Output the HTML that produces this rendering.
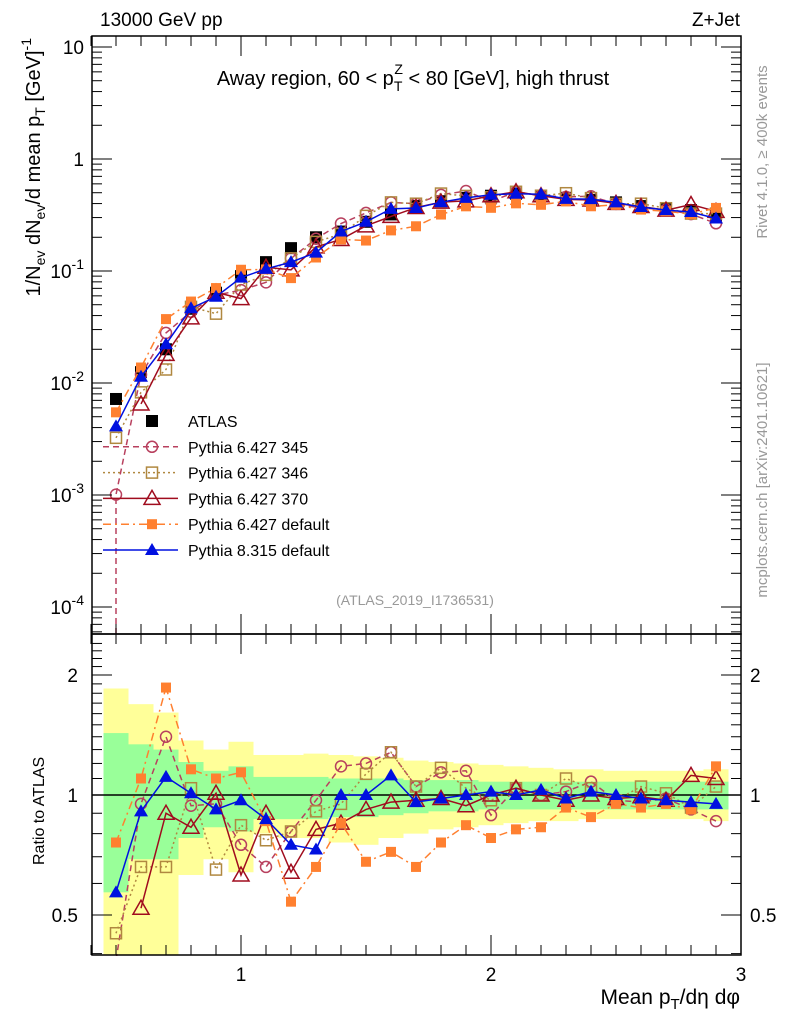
<!DOCTYPE html>
<html><head><meta charset="utf-8"><style>
html,body{margin:0;padding:0;background:#fff;}
svg{display:block;font-family:"Liberation Sans",sans-serif;}
</style></head><body>
<svg id="chart" width="786" height="1024" viewBox="0 0 786 1024" xmlns="http://www.w3.org/2000/svg">
<rect x="0" y="0" width="786" height="1024" fill="#fff"/>
<g id="bands"></g><g id="grid"></g><g id="marks"></g><g id="axes"></g>
<text x="100" y="26" font-size="19">13000 GeV pp</text>
<text x="740" y="26" font-size="19" text-anchor="end">Z+Jet</text>
<text x="413" y="85" font-size="20" text-anchor="middle">Away region, 60 &lt; p<tspan font-size="14" dy="6">T</tspan><tspan font-size="14" dx="-8" dy="-17">Z</tspan><tspan dy="11"> &lt; 80 [GeV], high thrust</tspan></text>
<text x="415" y="605" font-size="14" fill="#999" text-anchor="middle">(ATLAS_2019_I1736531)</text>
<text transform="translate(767,152) rotate(-90)" font-size="15" fill="#999" text-anchor="middle">Rivet 4.1.0, ≥ 400k events</text>
<text transform="translate(767,480) rotate(-90)" font-size="15" fill="#999" text-anchor="middle">mcplots.cern.ch [arXiv:2401.10621]</text>
<text transform="translate(40,38) rotate(-90)" font-size="20" text-anchor="end">1/N<tspan font-size="14" dy="5">ev</tspan><tspan dy="-5"> dN</tspan><tspan font-size="14" dy="5">ev</tspan><tspan dy="-5">/d mean p</tspan><tspan font-size="14" dy="5">T</tspan><tspan dy="-5"> [GeV]</tspan><tspan font-size="14" dy="-9">-1</tspan></text>
<text transform="translate(44,865) rotate(-90)" font-size="16">Ratio to ATLAS</text>
<text x="740" y="1004" font-size="21" text-anchor="end">Mean p<tspan font-size="15" dy="5">T</tspan><tspan dy="-5">/dη dφ</tspan></text>
<g id="legend"></g>
</svg>
<script>
const xs=[0.5,0.6,0.7,0.8,0.9,1.0,1.1,1.2,1.3,1.4,1.5,1.6,1.7,1.8,1.9,2.0,2.1,2.2,2.3,2.4,2.5,2.6,2.7,2.8,2.9];
const atlas=[0.0072,0.0125,0.020,0.046,0.064,0.090,0.120,0.160,0.200,0.225,0.275,0.32,0.38,0.42,0.45,0.47,0.49,0.47,0.45,0.43,0.41,0.38,0.36,0.35,0.31];
const r345=[0.14,0.95,1.40,0.94,0.95,0.75,0.66,0.81,0.97,1.18,1.20,1.28,1.05,1.14,1.15,0.89,1.04,1.00,1.02,1.08,0.97,0.96,0.98,0.92,0.86];
const r346=[0.45,0.66,0.66,1.04,0.65,0.84,0.77,0.81,0.91,0.95,1.13,1.28,1.05,1.17,1.04,0.97,1.04,1.00,1.10,1.04,0.97,1.05,1.01,0.93,1.05];
const r370=[null,0.52,0.90,0.83,1.01,0.63,0.90,0.64,0.82,0.85,0.92,0.96,0.97,0.98,0.94,1.00,1.04,1.00,0.97,1.00,0.98,0.99,0.97,1.12,1.10];
const r6def=[0.76,1.10,1.86,1.16,1.10,1.14,0.86,0.54,0.66,0.85,0.68,0.72,0.66,0.76,0.84,0.78,0.82,0.83,0.93,0.88,0.95,0.93,0.95,0.92,1.18];
const r8def=[0.57,0.91,1.11,1.01,0.92,0.97,0.87,0.75,0.73,1.00,1.00,1.12,0.96,0.98,1.00,1.02,1.00,1.03,0.98,1.02,1.00,0.98,0.97,0.96,0.95];
const yelHi=[1.85,1.69,1.61,1.37,1.30,1.36,1.26,1.26,1.27,1.26,1.25,1.24,1.22,1.21,1.20,1.19,1.18,1.17,1.16,1.16,1.15,1.15,1.15,1.15,1.16];
const yelLo=[0.30,0.30,0.30,0.63,0.69,0.64,0.80,0.78,0.78,0.76,0.75,0.78,0.80,0.82,0.83,0.84,0.85,0.86,0.86,0.87,0.87,0.87,0.87,0.87,0.86];
const grnHi=[1.43,1.34,1.30,1.21,1.15,1.18,1.11,1.11,1.11,1.10,1.10,1.10,1.09,1.09,1.09,1.08,1.08,1.08,1.08,1.08,1.08,1.08,1.08,1.08,1.08];
const grnLo=[0.57,0.69,0.69,0.78,0.83,0.81,0.87,0.87,0.87,0.88,0.88,0.89,0.90,0.91,0.91,0.92,0.92,0.92,0.92,0.92,0.92,0.92,0.92,0.92,0.92];
const yTicksMain=[10,1,0.1,0.01,0.001,0.0001];
const yTickLabelsMain=["10","1","10^-1","10^-2","10^-3","10^-4"];
const xTicks=[1,2,3];
const ratioTicks=[2,1,0.5];

const NS="http://www.w3.org/2000/svg";
const L=92,R=741,T=36,MB=634,RB=955;
const X=v=>91+250*(v-0.4);
const Y=v=>159-112*Math.log10(v);
const YR=v=>795-120*Math.log2(v);
function el(tag,attrs,parent){const e=document.createElementNS(NS,tag);for(const k in attrs)e.setAttribute(k,attrs[k]);parent.appendChild(e);return e;}
const bands=document.getElementById('bands'),marks=document.getElementById('marks'),axes=document.getElementById('axes'),legend=document.getElementById('legend');

xs.forEach((x,i)=>{
  const x0=X(x-0.05),w=25;
  const clip=v=>Math.min(RB,Math.max(MB,v));
  let r=el('rect',{x:x0,y:clip(YR(yelHi[i])),width:w,height:clip(YR(yelLo[i]))-clip(YR(yelHi[i])),fill:'#ffff99'},bands);
  
  
  let g=el('rect',{x:x0,y:YR(grnHi[i]),width:w,height:YR(grnLo[i])-YR(grnHi[i]),fill:'#99ff99'},bands);
  
  
});
el('line',{x1:L,x2:R,y1:YR(1),y2:YR(1),stroke:'#000','stroke-width':1.5},bands);

const series=[
 {name:'Pythia 6.427 345',r:r345,color:'#b8405e',dash:'6,4',marker:'circle'},
 {name:'Pythia 6.427 346',r:r346,color:'#b08840',dash:'2,3',marker:'square'},
 {name:'Pythia 6.427 370',r:r370,color:'#a00c1e',dash:'',marker:'tri'},
 {name:'Pythia 6.427 default',r:r6def,color:'#ff8030',dash:'8,4,2,4',marker:'fsquare'},
 {name:'Pythia 8.315 default',r:r8def,color:'#0010e0',dash:'',marker:'ftri'}
];
function marker(type,x,y,c,p){
  let m;
  if(type==='circle')m=el('circle',{cx:x,cy:y,r:5.5,fill:'none',stroke:c,'stroke-width':1.5},p);
  else if(type==='square')m=el('rect',{x:x-5.5,y:y-5.5,width:11,height:11,fill:'none',stroke:c,'stroke-width':1.5},p);
  else if(type==='fsquare')m=el('rect',{x:x-5,y:y-5,width:10,height:10,fill:c},p);
  else if(type==='bsquare')m=el('rect',{x:x-6,y:y-6,width:12,height:12,fill:c},p);
  else if(type==='tri')m=el('polygon',{points:`${x},${y-8} ${x-8},${y+6} ${x+8},${y+6}`,fill:'none',stroke:c,'stroke-width':1.5},p);
  else m=el('polygon',{points:`${x},${y-7} ${x-7},${y+5} ${x+7},${y+5}`,fill:c},p);
  return m;
}
atlas.forEach((v,i)=>{
  const m=marker('bsquare',X(xs[i]),Y(v),'#000',marks);
  
  
});
series.forEach((s,si)=>{
  const mainPts=[],ratPts=[];
  xs.forEach((x,i)=>{
    if(s.r[i]==null)return;
    const v=atlas[i]*s.r[i];
    mainPts.push([X(x),Y(v)]);
    ratPts.push([X(x),Math.min(RB+5,YR(s.r[i]))]);
  });
  if(si===0){mainPts.unshift([mainPts[0][0],MB]);}
  const attrs={fill:'none',stroke:s.color,'stroke-width':1.5};
  if(s.dash)attrs['stroke-dasharray']=s.dash;
  const pl=el('polyline',Object.assign({points:mainPts.map(p=>p.join(',')).join(' ')},attrs),marks);
  
  
  const pr=el('polyline',Object.assign({points:ratPts.map(p=>p.join(',')).join(' ')},attrs),marks);
  
  
  mainPts.forEach(p=>{if(p[1]>=MB)return;const m=marker(s.marker,p[0],p[1],s.color,marks);
    
    });
  ratPts.forEach(p=>{if(p[1]>RB)return;const m=marker(s.marker,p[0],p[1],s.color,marks);
    
    });
});
el('rect',{x:0,y:RB+1,width:786,height:69,fill:'#fff'},marks);

el('rect',{x:L,y:T,width:R-L,height:MB-T,fill:'none',stroke:'#000','stroke-width':1.5},axes);
el('rect',{x:L,y:MB,width:R-L,height:RB-MB,fill:'none',stroke:'#000','stroke-width':1.5},axes);
for(let d=-5;d<=1;d++){for(let k=1;k<10;k++){const v=k*Math.pow(10,d);const y=Y(v);if(y<T||y>MB)continue;
  const len=k===1?20:10;
  el('line',{x1:L,x2:L+len,y1:y,y2:y,stroke:'#000'},axes);el('line',{x1:R,x2:R-len,y1:y,y2:y,stroke:'#000'},axes);}}
yTicksMain.forEach((v,i)=>{
  const lab=yTickLabelsMain[i];const y=Y(v);
  const t=el('text',{x:84,y:y+7,'font-size':19,'text-anchor':'end'},axes);
  if(lab.includes('^')){const [b,e]=lab.split('^');t.textContent=b;const ts=el('tspan',{dy:-9,'font-size':14},t);ts.textContent=e;}
  else t.textContent=lab;
  
  
});
for(let v=0.4;v<=3.001;v+=0.1){const x=X(v);const major=Math.abs(v-Math.round(v))<1e-6;const len=major?20:10;
  [[T,1],[MB,-1],[MB,1],[RB,-1]].forEach(([y0,s])=>el('line',{x1:x,x2:x,y1:y0,y2:y0+s*len,stroke:'#000'},axes));}
xTicks.forEach(v=>{const t=el('text',{x:X(v),y:981,'font-size':19,'text-anchor':'middle'},axes);t.textContent=String(v);
  
  });
for(let v=0.4;v<=2.5;v+=0.1){const y=YR(v);if(y<MB||y>RB)continue;const maj=[0.5,1,2].some(m=>Math.abs(m-v)<1e-6);const len=maj?20:10;
  el('line',{x1:L,x2:L+len,y1:y,y2:y,stroke:'#000'},axes);el('line',{x1:R,x2:R-len,y1:y,y2:y,stroke:'#000'},axes);}
ratioTicks.forEach(v=>{
  const t=el('text',{x:78,y:YR(v)+7,'font-size':19,'text-anchor':'end'},axes);t.textContent=String(v);
  
  
  const t2=el('text',{x:750,y:YR(v)+7,'font-size':19},axes);t2.textContent=String(v);
  
  
});
const legItems=[{name:'ATLAS',color:'#000',marker:'bsquare',dash:null}].concat(series);
legItems.forEach((s,i)=>{
  const y=421+i*25.8;
  if(s.dash!==null){const a={x1:103,x2:178,y1:y,y2:y,stroke:s.color,'stroke-width':1.5};if(s.dash)a['stroke-dasharray']=s.dash;el('line',a,legend);}
  marker(s.marker,152,y,s.color,legend);
  const t=el('text',{x:188,y:y+6,'font-size':16},legend);t.textContent=s.name;
  
  
});
</script>
</body></html>
